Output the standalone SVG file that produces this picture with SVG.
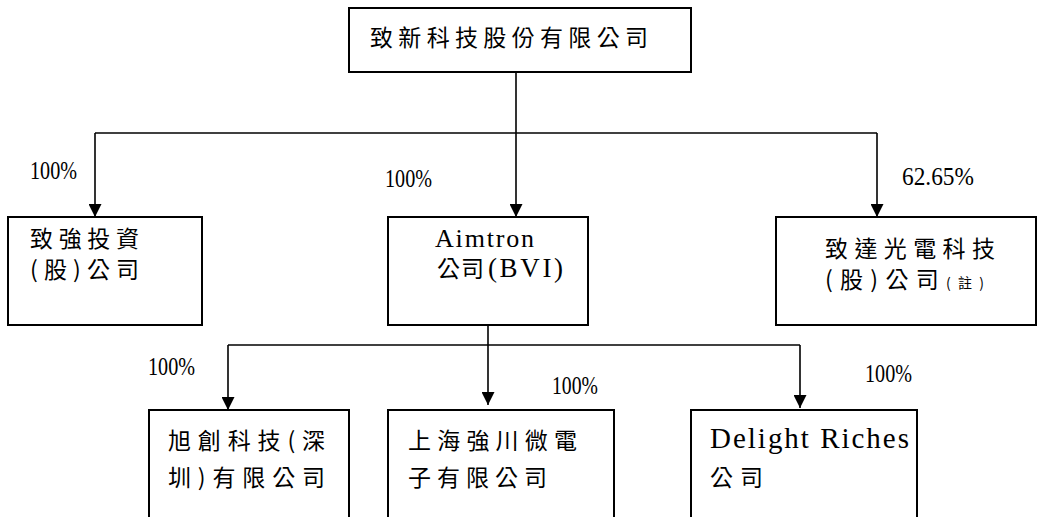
<svg xmlns="http://www.w3.org/2000/svg" width="1038" height="517" viewBox="0 0 1038 517">
<style>
  .box{fill:#fff;stroke:#000;stroke-width:2}
  .ln{fill:none;stroke:#000;stroke-width:1.6}
  .t{font-family:"Noto Sans CJK TC","Liberation Serif",sans-serif;font-size:23px;fill:#000}
  .l{font-family:"Liberation Serif","Noto Sans CJK TC",serif;fill:#000}
  .p{font-family:"Liberation Serif",serif;font-size:26px;fill:#000}
  .s{font-size:14px}
</style>
<defs>
  <marker id="ah" viewBox="0 0 13 13" refX="13" refY="6.5" markerWidth="13" markerHeight="13" markerUnits="userSpaceOnUse" orient="auto">
    <path d="M0,0 L13,6.5 L0,13 z" fill="#000"/>
  </marker>
</defs>
<rect width="1038" height="517" fill="#fff"/>
<g id="connectors">
  <line class="ln" x1="516" y1="72" x2="516" y2="217" marker-end="url(#ah)"/>
  <line class="ln" x1="95" y1="133" x2="877" y2="133"/>
  <line class="ln" x1="95" y1="133" x2="95" y2="217" marker-end="url(#ah)"/>
  <line class="ln" x1="877" y1="133" x2="877" y2="217" marker-end="url(#ah)"/>
  <line class="ln" x1="488" y1="325" x2="488" y2="405" marker-end="url(#ah)"/>
  <line class="ln" x1="228" y1="345" x2="800" y2="345"/>
  <line class="ln" x1="228" y1="345" x2="228" y2="410" marker-end="url(#ah)"/>
  <line class="ln" x1="800" y1="345" x2="800" y2="408" marker-end="url(#ah)"/>
  <text class="p" x="30" y="179" textLength="47" lengthAdjust="spacingAndGlyphs">100%</text>
  <text class="p" x="385" y="187" textLength="47" lengthAdjust="spacingAndGlyphs">100%</text>
  <text class="p" x="902" y="185" textLength="72" lengthAdjust="spacingAndGlyphs">62.65%</text>
  <text class="p" x="148" y="375" textLength="47" lengthAdjust="spacingAndGlyphs">100%</text>
  <text class="p" x="552" y="394" textLength="46" lengthAdjust="spacingAndGlyphs">100%</text>
  <text class="p" x="865" y="382" textLength="47" lengthAdjust="spacingAndGlyphs">100%</text>
</g>
<g id="node-top">
  <rect class="box" x="349" y="8" width="342" height="64"/>
  <text class="t" x="370" y="46" textLength="278">致新科技股份有限公司</text>
</g>
<g id="node-zhiqiang">
  <rect class="box" x="8" y="217" width="194" height="108"/>
  <text class="t" x="30" y="247" textLength="109">致強投資</text>
  <text class="t" x="30" y="278" textLength="109">(股)公司</text>
</g>
<g id="node-aimtron">
  <rect class="box" x="388" y="217" width="200" height="108"/>
  <text class="l" x="435" y="247" textLength="99" style="font-size:26px">Aimtron</text>
  <text class="t" x="437" y="277" textLength="47">公司</text>
  <text class="l" x="488" y="277" textLength="75" style="font-size:27px">(BVI)</text>
</g>
<g id="node-zhida">
  <rect class="box" x="776" y="217" width="260" height="108"/>
  <text class="t" x="825" y="257" textLength="170">致達光電科技</text>
  <text class="t" x="825" y="288" textLength="159">(股)公司<tspan class="s">(註)</tspan></text>
</g>
<g id="node-xuchuang">
  <rect class="box" x="149" y="410" width="200" height="112"/>
  <text class="t" x="168" y="449" textLength="157">旭創科技(深</text>
  <text class="t" x="168" y="486" textLength="157">圳)有限公司</text>
</g>
<g id="node-shanghai">
  <rect class="box" x="388" y="410" width="226" height="112"/>
  <text class="t" x="408" y="449" textLength="169">上海強川微電</text>
  <text class="t" x="408" y="486" textLength="139">子有限公司</text>
</g>
<g id="node-delight">
  <rect class="box" x="691" y="410" width="226" height="112"/>
  <text class="l" x="710" y="448" textLength="199" style="font-size:29px">Delight Riches</text>
  <text class="t" x="710" y="486" textLength="53">公司</text>
</g>
</svg>
